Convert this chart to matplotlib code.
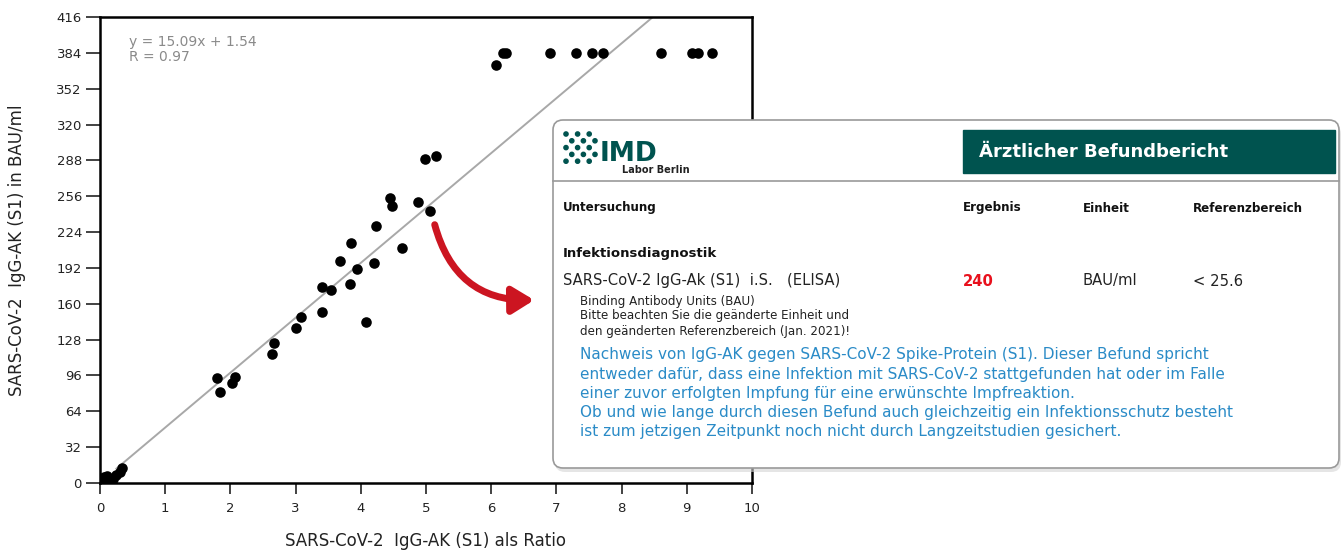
import matplotlib.pyplot as plt
from matplotlib.patches import FancyBboxPatch, FancyArrowPatch, Rectangle, Circle

# measured points: ratio (x) vs BAU/ml (y)
ratio = [0.02, 0.06, 0.10, 0.15, 0.20, 0.25, 0.30, 0.33,
         1.79, 1.84, 2.02, 2.07, 2.64, 2.67,
         3.00, 3.08, 3.40, 3.40, 3.54, 3.68, 3.83, 3.85, 3.94, 4.08, 4.20, 4.23,
         4.45, 4.48, 4.63, 4.88, 5.06, 4.98, 5.15,
         6.07, 6.18, 6.23, 6.90, 7.30, 7.55, 7.71, 8.60, 9.08, 9.17, 9.39]
bau = [2, 5, 6, 3, 4, 7, 10, 13,
       94, 81, 89, 95, 115, 125,
       138, 148, 153, 175, 172, 198, 178, 214, 191, 144, 196, 229,
       254, 247, 210, 251, 243, 289, 292,
       373, 384, 384, 384, 384, 384, 384, 384, 384, 384, 384]

fit_slope, fit_icpt = 49.0, 0.5
fit_x = [0.25, 8.6]

xticks = list(range(0, 11))
yticks = list(range(0, 417, 32))

eq_lines = ["y = 15.09x + 1.54", "R = 0.97"]

fig = plt.figure(figsize=(13.41, 5.51), dpi=100)
ax = fig.add_axes([100 / 1341, 1 - 483 / 551, 652 / 1341, 466 / 551])
ax.scatter(ratio, bau, s=58, color='black', zorder=3, linewidths=0)
ax.plot(fit_x, [fit_slope * v + fit_icpt for v in fit_x], color='#a8a8a8', lw=1.4, zorder=2)
ax.set_xlim(0, 10)
ax.set_ylim(0, 416)
ax.set_xticks(xticks)
ax.set_yticks(yticks)
for s in ax.spines.values():
    s.set_linewidth(1.8)
ax.tick_params(labelsize=9.5, width=1.2, colors='#222222')
ax.tick_params(axis='x', length=8, pad=6)
ax.tick_params(axis='y', length=10, pad=3)
ax.set_xlabel("SARS-CoV-2  IgG-AK (S1) als Ratio", fontsize=12, color='#222222', labelpad=12)
ax.set_ylabel("SARS-CoV-2  IgG-AK (S1) in BAU/ml", fontsize=12, color='#222222', labelpad=22)
ax.text(0.045, 0.962, "\n".join(eq_lines), transform=ax.transAxes, fontsize=10,
        color='#8a8a8a', va='top', linespacing=1.1)

# overlay in pixel coordinates for the report card
ov = fig.add_axes([0, 0, 1, 1], zorder=5)
ov.set_xlim(0, 1341)
ov.set_ylim(551, 0)
ov.axis('off')

shadow = FancyBboxPatch((555, 124), 786, 348, boxstyle="round,pad=0,rounding_size=10",
                        fc='#d5d5d5', ec='none', alpha=0.6)
ov.add_patch(shadow)
card = FancyBboxPatch((553, 120), 786, 348, boxstyle="round,pad=0,rounding_size=10",
                      fc='white', ec='#9a9a9a', lw=1.2)
ov.add_patch(card)
ov.plot([553, 1339], [181, 181], color='#9a9a9a', lw=1.2)

teal = '#00534f'
for r in range(5):
    for c in range(6):
        if (r + c) % 2 == 0:
            ov.add_patch(Circle((566 + c * 5.8, 134 + r * 6.8), 2.1, color=teal))
ov.text(600, 161, "IMD", fontsize=19, fontweight='bold', color=teal, va='baseline')
ov.text(622, 173, "Labor Berlin", fontsize=7, fontweight='bold', color='#222222', va='baseline')

ov.add_patch(Rectangle((963, 130), 372, 43, color=teal))
ov.text(979, 152, "Ärztlicher Befundbericht", fontsize=13, fontweight='bold', color='white', va='center')

hdr_y = 208
ov.text(563, hdr_y, "Untersuchung", fontsize=8.6, fontweight='bold', va='center', color='#111111')
ov.text(963, hdr_y, "Ergebnis", fontsize=8.6, fontweight='bold', va='center', color='#111111')
ov.text(1083, hdr_y, "Einheit", fontsize=8.6, fontweight='bold', va='center', color='#111111')
ov.text(1193, hdr_y, "Referenzbereich", fontsize=8.6, fontweight='bold', va='center', color='#111111')
ov.text(563, 253, "Infektionsdiagnostik", fontsize=9.5, fontweight='bold', va='center', color='#111111')
ov.text(563, 281, "SARS-CoV-2 IgG-Ak (S1)  i.S.   (ELISA)", fontsize=10.6, va='center', color='#222222')
ov.text(963, 281, "240", fontsize=10.6, fontweight='bold', va='center', color='#e8101c')
ov.text(1083, 281, "BAU/ml", fontsize=10.6, va='center', color='#222222')
ov.text(1193, 281, "< 25.6", fontsize=10.6, va='center', color='#222222')

notes = ["Binding Antibody Units (BAU)",
         "Bitte beachten Sie die geänderte Einheit und",
         "den geänderten Referenzbereich (Jan. 2021)!"]
for i, line in enumerate(notes):
    ov.text(580, 301 + i * 15, line, fontsize=8.6, va='center', color='#222222')

blue_lines = ["Nachweis von IgG-AK gegen SARS-CoV-2 Spike-Protein (S1). Dieser Befund spricht",
              "entweder dafür, dass eine Infektion mit SARS-CoV-2 stattgefunden hat oder im Falle",
              "einer zuvor erfolgten Impfung für eine erwünschte Impfreaktion.",
              "Ob und wie lange durch diesen Befund auch gleichzeitig ein Infektionsschutz besteht",
              "ist zum jetzigen Zeitpunkt noch nicht durch Langzeitstudien gesichert."]
for i, line in enumerate(blue_lines):
    ov.text(580, 355 + i * 19.2, line, fontsize=11.0, va='center', color='#2a8bc7')

arrow = FancyArrowPatch((434, 222), (537, 300), connectionstyle="arc3,rad=0.4",
                        arrowstyle="-|>,head_length=13,head_width=8", color='#cc1521', lw=5)
ov.add_patch(arrow)

fig.savefig("out.png", dpi=100)
